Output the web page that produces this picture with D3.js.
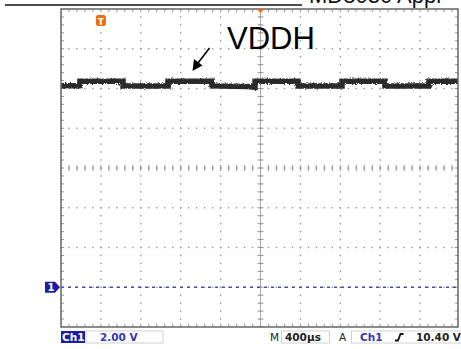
<!DOCTYPE html>
<html>
<head>
<meta charset="utf-8">
<script src="https://cdn.jsdelivr.net/npm/d3@7"></script>
<style>
  body { margin: 0; background: #fff; }
  svg { display: block; }
</style>
</head>
<body>
<div id="chart"></div>
<script>
const W = 461, H = 349;

const gridColor = "#959595";
const frameColor = "#6e6e6e";
const traceColor = "#2b2b2b";
const navy = "#1c1ca6";
const chBlue = "#3434b4";
const orange = "#f26a10";

// time in microseconds (400 us/div), volts at 2 V/div, ground at -3 div
const timeDivs = d3.range(0, 4001, 400);
const voltDivs = d3.range(-2, 14.01, 2);

// VDDH trace: [time us, volts], steps as doubled points
const traceT = [0, 190, 190, 622, 622, 1073, 1073, 1514, 1514, 1860, 1945, 1945, 2376, 2376, 2817, 2817, 3248, 3248, 3689, 3689, 4000];
const traceV = [10.14, 10.14, 10.36, 10.36, 10.12, 10.12, 10.37, 10.37, 10.13, 10.10, 10.06, 10.36, 10.36, 10.12, 10.12, 10.37, 10.37, 10.12, 10.12, 10.37, 10.37];

const labelText = "VDDH";
const headerText = "MD8030 Appl";
const chLabel = "Ch1";
const voltsDiv = "2.00 V";
const timeDiv = "400\u00b5s";
const trigLevel = "10.40 V";

const x = d3.scaleLinear().domain([0, 4000]).range([61, 460]);
const y = d3.scaleLinear().domain([-2, 14]).range([327, 9]);
const xRight = 458;

const svg = d3.select("#chart").append("svg")
  .attr("width", W).attr("height", H)
  .attr("viewBox", `0 0 ${W} ${H}`);

const defs = svg.append("defs");
defs.append("clipPath").attr("id", "plot")
  .append("rect").attr("x", x(0)).attr("y", y(14)).attr("width", xRight - x(0)).attr("height", y(-2) - y(14));

// noisy look of the scope trace
const f = defs.append("filter").attr("id", "noise")
  .attr("filterUnits", "userSpaceOnUse")
  .attr("x", 50).attr("y", 60).attr("width", 420).attr("height", 50);
f.append("feTurbulence").attr("type", "fractalNoise").attr("baseFrequency", "1.3 0.9").attr("numOctaves", 2).attr("seed", 3).attr("result", "t");
f.append("feDisplacementMap").attr("in", "SourceGraphic").attr("in2", "t").attr("scale", 3.5).attr("xChannelSelector", "R").attr("yChannelSelector", "G");

// header remnant
svg.append("line").attr("x1", 5).attr("x2", 302).attr("y1", 5).attr("y2", 5)
  .attr("stroke", "#111").attr("stroke-width", 1.6);
svg.append("text").attr("x", 309).attr("y", 3)
  .attr("font-family", "Liberation Sans, Arial, sans-serif").attr("font-size", 22)
  .attr("fill", "#111").text(headerText);

const plot = svg.append("g").attr("clip-path", "url(#plot)");

// dotted grid
const minor = (d3.range(0, 4000.1, 80));
const minorV = d3.range(-2, 14.01, 0.4);
timeDivs.slice(1, -1).forEach(t => {
  plot.selectAll(null).data(minorV).join("rect")
    .attr("x", x(t) - 0.7).attr("y", v => y(v) - 0.7)
    .attr("width", 1.4).attr("height", 1.4).attr("fill", gridColor);
});
voltDivs.slice(1, -1).forEach(v => {
  plot.selectAll(null).data(minor).join("rect")
    .attr("x", t => x(t) - 0.7).attr("y", y(v) - 0.7)
    .attr("width", 1.4).attr("height", 1.4).attr("fill", gridColor);
});

// center axes with tick crosses
plot.selectAll(null).data(minorV).join("line")
  .attr("x1", x(2000) - 3).attr("x2", x(2000) + 3)
  .attr("y1", v => y(v)).attr("y2", v => y(v))
  .attr("stroke", gridColor).attr("stroke-width", 1);
plot.append("line").attr("x1", x(2000)).attr("x2", x(2000)).attr("y1", y(14)).attr("y2", y(-2))
  .attr("stroke", gridColor).attr("stroke-width", 0.8);
plot.append("line").attr("x1", x(0)).attr("x2", xRight).attr("y1", y(6)).attr("y2", y(6))
  .attr("stroke", gridColor).attr("stroke-width", 0.8).attr("stroke-dasharray", "1.4,6.58");
plot.selectAll(null).data(minor).join("line")
  .attr("x1", t => x(t)).attr("x2", t => x(t))
  .attr("y1", y(6) - 3).attr("y2", y(6) + 3)
  .attr("stroke", gridColor).attr("stroke-width", 1);

// frame ticks
plot.selectAll(null).data(minor).join("line")
  .attr("x1", t => x(t)).attr("x2", t => x(t))
  .attr("y1", y(14)).attr("y2", y(14) + 3)
  .attr("stroke", gridColor);
plot.selectAll(null).data(minor).join("line")
  .attr("x1", t => x(t)).attr("x2", t => x(t))
  .attr("y1", y(-2)).attr("y2", y(-2) - 3)
  .attr("stroke", gridColor);
plot.selectAll(null).data(minorV).join("line")
  .attr("x1", x(0)).attr("x2", x(0) + 3)
  .attr("y1", v => y(v)).attr("y2", v => y(v))
  .attr("stroke", gridColor);
plot.selectAll(null).data(minorV).join("line")
  .attr("x1", xRight).attr("x2", xRight - 3)
  .attr("y1", v => y(v)).attr("y2", v => y(v))
  .attr("stroke", gridColor);

// ground reference (dashed blue)
plot.append("line").attr("x1", x(0)).attr("x2", xRight).attr("y1", y(0)).attr("y2", y(0))
  .attr("stroke", "#4a4aa8").attr("stroke-width", 1.4).attr("stroke-dasharray", "3,4");

// trace
const pts = traceT.map((t, i) => [t, traceV[i]]);
const traceLine = d3.line().x(d => x(d[0])).y(d => y(d[1]));
plot.append("path").datum(pts)
  .attr("d", traceLine)
  .attr("fill", "none").attr("stroke", traceColor).attr("stroke-width", 3.5);
plot.append("path").datum(pts)
  .attr("d", traceLine)
  .attr("fill", "none").attr("stroke", traceColor).attr("stroke-width", 5.5)
  .attr("filter", "url(#noise)");

// frame
svg.append("rect").attr("x", x(0)).attr("y", y(14)).attr("width", xRight - x(0)).attr("height", y(-2) - y(14))
  .attr("fill", "none").attr("stroke", frameColor).attr("stroke-width", 1.6);

// trigger markers
svg.append("path")
  .attr("d", `M${x(2000) - 4},${y(14)} L${x(2000) + 4},${y(14)} L${x(2000)},${y(14) + 4} Z`)
  .attr("fill", orange);
svg.append("rect").attr("x", x(400) - 5).attr("y", 15).attr("width", 10).attr("height", 11).attr("rx", 2.5)
  .attr("fill", orange);
svg.append("text").attr("x", x(400)).attr("y", 24.5).attr("text-anchor", "middle")
  .attr("font-family", "DejaVu Sans, sans-serif").attr("font-weight", "bold").attr("font-size", 9)
  .attr("fill", "#fff").text("T");

// ground marker
const gy = y(0);
svg.append("path")
  .attr("d", `M45,${gy - 5.5} L55,${gy - 5.5} L60,${gy} L55,${gy + 5.5} L45,${gy + 5.5} Z`)
  .attr("fill", navy);
svg.append("text").attr("x", 51).attr("y", gy + 4).attr("text-anchor", "middle")
  .attr("font-family", "DejaVu Sans, sans-serif").attr("font-weight", "bold").attr("font-size", 10)
  .attr("fill", "#fff").text("1");

// VDDH label and arrow
svg.append("text").attr("x", 227).attr("y", 49)
  .attr("font-family", "Liberation Sans, Arial, sans-serif").attr("font-size", 31)
  .attr("fill", "#000").text(labelText);
svg.append("line").attr("x1", 209.5).attr("y1", 48).attr("x2", 198).attr("y2", 63)
  .attr("stroke", "#000").attr("stroke-width", 1.6);
svg.append("path").attr("d", "M192.5,71 L194,59 L202.5,65.5 Z").attr("fill", "#000");

// status bar
const sb = svg.append("g").attr("font-family", "DejaVu Sans, Verdana, sans-serif")
  .attr("font-weight", "bold").attr("font-size", 10.5);
sb.append("rect").attr("x", 61).attr("y", 331).attr("width", 24).attr("height", 12).attr("fill", navy);
sb.append("text").attr("x", 62).attr("y", 341).attr("fill", "#fff").text(chLabel);
sb.append("rect").attr("x", 86).attr("y", 331).attr("width", 77).attr("height", 12)
  .attr("fill", "#fff").attr("stroke", "#cfcfcf");
sb.append("text").attr("x", 100).attr("y", 341).attr("fill", chBlue).text(voltsDiv);
sb.append("text").attr("x", 270).attr("y", 341).attr("fill", "#222").attr("font-weight", "normal").text("M");
sb.append("rect").attr("x", 281.5).attr("y", 331).attr("width", 48).attr("height", 12)
  .attr("fill", "#fff").attr("stroke", "#cfcfcf");
sb.append("text").attr("x", 285).attr("y", 341).attr("fill", "#222").text(timeDiv);
sb.append("text").attr("x", 339).attr("y", 341).attr("fill", "#222").attr("font-weight", "normal").text("A");
sb.append("rect").attr("x", 351.5).attr("y", 331).attr("width", 115).attr("height", 12)
  .attr("fill", "#fff").attr("stroke", "#cfcfcf");
sb.append("text").attr("x", 360).attr("y", 341).attr("fill", chBlue).text(chLabel);
sb.append("path").attr("d", "M395,340.5 L398,340.5 L400.5,334 L403.5,334")
  .attr("fill", "none").attr("stroke", "#111").attr("stroke-width", 1.8);
sb.append("text").attr("x", 461).attr("y", 341).attr("text-anchor", "end").attr("fill", "#222").text(trigLevel);
</script>
</body>
</html>
